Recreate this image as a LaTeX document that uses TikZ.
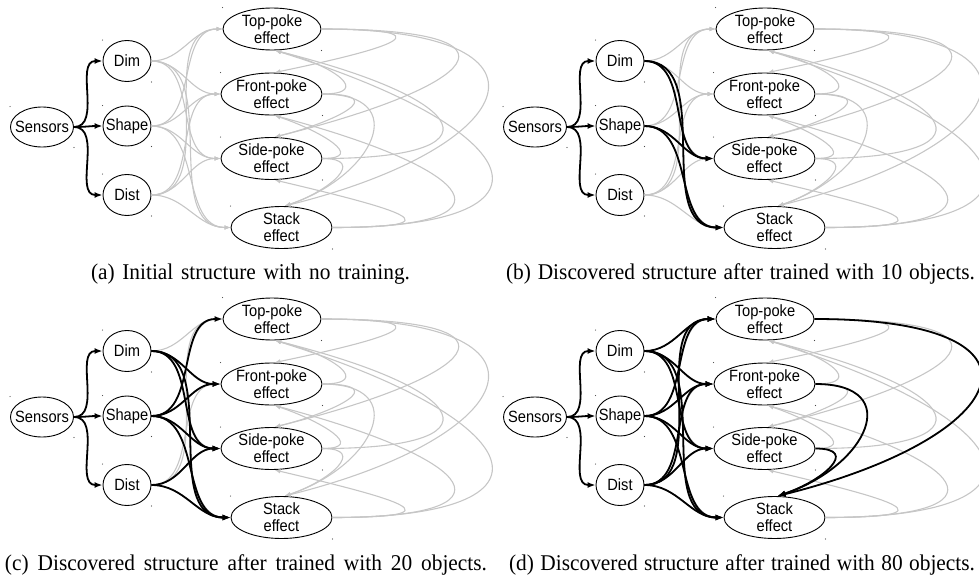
\documentclass[tikz,border=0pt]{standalone}
\usepackage{fontspec}
\setmainfont{Liberation Serif}[FakeStretch=0.95]
\newfontfamily\nodefont{Liberation Sans}[FakeStretch=0.9]
\usetikzlibrary{arrows.meta,shapes.geometric}
\definecolor{grayc}{RGB}{198,198,198}
\definecolor{dotc}{RGB}{70,70,70}

% feature/sensor -> node edge: style, panel, from, to
\newcommand\fe[4]{\draw[#1] (#2-#3.east) to[out=0,in=180] (#2-#4.west);}
% effect -> effect edge: style, panel, from, to, A, B, C, anchor
\newcommand\ee[8]{\draw[#1] (#2-#3.east) .. controls +(#5,0) and +(#6,#7) .. ([xshift=3pt]#2-#4.#8);}

\newcommand\eTopFrt[2]{\ee{#1}{#2}{top}{frt}{130}{120}{-25}{north}}
\newcommand\eTopSid[2]{\ee{#1}{#2}{top}{sid}{220}{200}{-50}{north}}
\newcommand\eTopStk[2]{\ee{#1}{#2}{top}{stk}{250}{240}{-60}{north}}
\newcommand\eFrtSid[2]{\ee{#1}{#2}{frt}{sid}{70}{60}{-15}{north}}
\newcommand\eFrtStk[2]{\ee{#1}{#2}{frt}{stk}{90}{90}{-30}{north}}
\newcommand\eSidStk[2]{\ee{#1}{#2}{sid}{stk}{45}{45}{-15}{north}}
\newcommand\eFrtTop[2]{\ee{#1}{#2}{frt}{top}{50}{60}{15}{south}}
\newcommand\eSidTop[2]{\ee{#1}{#2}{sid}{top}{180}{200}{50}{south}}
\newcommand\eStkTop[2]{\ee{#1}{#2}{stk}{top}{240}{257}{80}{south}}
\newcommand\eSidFrt[2]{\ee{#1}{#2}{sid}{frt}{45}{45}{15}{south}}
\newcommand\eStkFrt[2]{\ee{#1}{#2}{stk}{frt}{190}{206}{55}{south}}
\newcommand\eStkSid[2]{\ee{#1}{#2}{stk}{sid}{130}{127}{30}{south}}

\newcommand\mkpanel[3]{%
\begin{scope}[shift={(#2,#3)}]
\node[nd,minimum width=63pt,minimum height=40pt,label={[lb]center:Sensors}] (#1-sens) at (42,127) {};
\node[nd,minimum width=48pt,minimum height=41pt,label={[lb]center:Dim}] (#1-dim) at (127,61) {};
\node[nd,minimum width=48pt,minimum height=40pt,label={[lb]center:Shape}] (#1-shp) at (127,126) {};
\node[nd,minimum width=48pt,minimum height=41pt,label={[lb]center:Dist}] (#1-dst) at (127,195) {};
\node[nd,minimum width=98pt,minimum height=42pt,label={[lb]center:Top-poke\\effect}] (#1-top) at (272,29) {};
\node[nd,minimum width=101pt,minimum height=42pt,label={[lb]center:Front-poke\\effect}] (#1-frt) at (271.5,94) {};
\node[nd,minimum width=101pt,minimum height=42pt,label={[lb]center:Side-poke\\effect}] (#1-sid) at (271.5,158.5) {};
\node[nd,minimum width=101pt,minimum height=42pt,label={[lb]center:Stack\\effect}] (#1-stk) at (281.5,227.5) {};
\end{scope}
\foreach \n in {sens,dim,shp,dst,top,frt,sid,stk}{
  \fill[dotc] (#1-\n.west |- #1-\n.north) circle (0.6pt);
  \fill[dotc] (#1-\n.east |- #1-\n.south) circle (0.6pt);
}
% gray candidate edges
\eTopFrt{gr}{#1}\eTopSid{gr}{#1}\eTopStk{gr}{#1}\eFrtSid{gr}{#1}\eFrtStk{gr}{#1}\eSidStk{gr}{#1}
\eFrtTop{gr}{#1}\eSidTop{gr}{#1}\eStkTop{gr}{#1}\eSidFrt{gr}{#1}\eStkFrt{gr}{#1}\eStkSid{gr}{#1}
\foreach \f in {dim,shp,dst}{\foreach \e in {top,frt,sid,stk}{\fe{gr}{#1}{\f}{\e}}}
% sensor edges
\foreach \f in {dim,shp,dst}{\fe{bk}{#1}{sens}{\f}}
}

\begin{document}
\begin{tikzpicture}[x=1pt,y=-1pt,
  nd/.style={draw, ellipse, inner sep=0pt, line width=0.9pt},
  lb/.style={inner sep=0pt, align=center, font=\nodefont\fontsize{16.3}{16.8}\selectfont},
  gr/.style={draw=grayc, line width=1.1pt, -{Latex[length=6pt,width=4.5pt]}},
  bk/.style={draw=black, line width=1.8pt, -{Latex[length=8pt,width=6pt]}},
  captxt/.style={inner sep=0pt, anchor=base, font=\fontsize{22.5}{25}\selectfont}]
\useasboundingbox (0,0) rectangle (979,578);

\mkpanel{a}{0}{0}
\mkpanel{b}{493}{0}
\mkpanel{c}{0}{290}
\mkpanel{d}{493}{290}

% (b) learned edges
\fe{bk}{b}{dim}{sid}\fe{bk}{b}{dim}{stk}\fe{bk}{b}{shp}{sid}\fe{bk}{b}{shp}{stk}
% (c) learned edges
\fe{bk}{c}{dim}{frt}\fe{bk}{c}{dim}{sid}\fe{bk}{c}{dim}{stk}
\fe{bk}{c}{shp}{top}\fe{bk}{c}{shp}{frt}\fe{bk}{c}{shp}{sid}\fe{bk}{c}{shp}{stk}
\fe{bk}{c}{dst}{sid}\fe{bk}{c}{dst}{stk}
% (d) learned edges
\foreach \f in {dim,shp,dst}{\foreach \e in {top,frt,sid,stk}{\fe{bk}{d}{\f}{\e}}}
\eTopStk{bk}{d}\eFrtStk{bk}{d}\eSidStk{bk}{d}

\node[captxt] (capa) at (250.5,279) {\makebox[319pt][s]{(a) Initial structure with no training.}};
\node[captxt] (capb) at (740.5,279) {\makebox[469pt][s]{(b) Discovered structure after trained with 10 objects.}};
\node[captxt] (capc) at (246,570) {\makebox[482pt][s]{(c) Discovered structure after trained with 20 objects.}};
\node[captxt] (capd) at (742,570) {\makebox[466pt][s]{(d) Discovered structure after trained with 80 objects.}};
\end{tikzpicture}
\end{document}
